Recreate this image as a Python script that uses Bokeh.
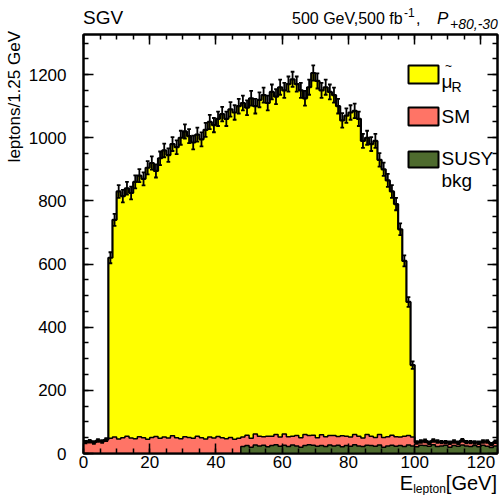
import numpy as np
from bokeh.plotting import figure
from bokeh.models import (LinearAxis, SingleIntervalTicker, Label,
                          BoxAnnotation, Div, CustomJSTickFormatter)
from bokeh.layouts import row, column
from bokeh.embed import file_html
from bokeh.resources import INLINE

# ---------------- data (events per 1.25 GeV bin, 0..125 GeV) ----------------
bin_width = 1.25
signal = [0, 0, 0, 0, 0, 0,
          572, 688, 784, 765, 785, 776, 813, 827, 820, 860,
          869, 841, 887, 908, 896, 924, 920, 953, 967, 954,
          937, 955, 945, 979, 998, 991, 1006, 1025, 1013, 1039,
          1035, 1052, 1058, 1037, 1077, 1038, 1065, 1082, 1055, 1090,
          1070, 1108, 1088, 1117, 1130, 1113, 1100, 1065, 1103, 1147,
          1130, 1091, 1107, 1088, 1078, 1046, 999, 1015, 1028, 1025,
          1005, 941, 940, 925, 939, 870, 849, 812, 772, 737,
          658, 555, 423, 228,
          0, 0, 0, 0, 0, 0, 0, 0, 0, 0, 0, 0, 0, 0, 0, 0, 0, 0, 0, 0]
sm = [36, 39, 35, 41, 38, 44,
      48, 52, 46, 50, 55, 49, 47, 53, 50, 45, 51, 54, 48, 52, 49, 56, 50, 47,
      53, 51, 48, 55, 50, 46, 52, 49, 54, 50, 47, 51, 45, 48,
      30, 33, 28, 35, 31, 27, 34, 30, 32, 29, 36, 31, 28, 33, 30, 35, 29, 32,
      27, 34, 31, 30, 33, 28, 35, 30, 29, 32, 31, 27, 34, 30, 28, 33, 31, 29,
      32, 30, 27, 33, 30, 28,
      14, 12, 15, 11, 13, 16, 12, 10, 14, 13, 11, 15, 12, 14, 10, 13, 12, 15, 11, 13]
susy = [0, 0, 0, 0, 0, 0, 0, 0, 0, 0, 0, 0, 0, 0, 0, 0, 0, 0, 0,
        0, 0, 0, 0, 0, 0, 0, 0, 0, 0, 0, 0, 0, 0, 0, 0, 0, 0, 0,
        22, 25, 20, 27, 24, 26, 21, 25, 28, 23, 26, 22, 27, 24, 20, 25, 28, 26,
        23, 25, 22, 27, 24, 26, 21, 25, 23, 28, 24, 22, 26, 25, 23, 27, 20, 24,
        26, 23, 25, 22, 27, 24, 21, 26, 25, 23, 28, 22, 24, 26, 20, 25, 23, 27,
        24, 22, 25, 21, 26, 23, 19, 24]
legend_labels = ["SM", "SUSY", "bkg"]
x_tick_step = 20
y_tick_step = 200

# ---------------- derived stacks ----------------
sig = np.array(signal, float)
smv = np.array(sm, float)
sus = np.array(susy, float)
n = len(sig)
edges = np.arange(n + 1) * bin_width
centers = edges[:-1] + bin_width / 2
lvl1 = sus
lvl2 = sus + smv
total = lvl2 + sig
err = 0.7 * np.sqrt(total)

# ---------------- layout (overall canvas 502 x 495) ----------------
W, H = 502, 495
LEFT_W = 24          # strip holding the y title
TOP_H = 31           # strip holding the header texts
BOT_H = 20           # strip holding the x title
PW, PH = W - LEFT_W, H - TOP_H - BOT_H
L, R, T, B = 59, 5, 3, 22   # borders of the main plot
FX0, FY0 = LEFT_W + L, TOP_H + T          # frame top-left in canvas px
FW, FH = PW - L - R, PH - T - B
XMAX, YMAX = 125.0, 1327.0
FONT = "Liberation Sans"


def X(px):
    return (px - FX0) * XMAX / FW


def Y(py):
    return (FY0 + FH - py) * YMAX / FH


p = figure(width=PW, height=PH, x_range=(0, XMAX), y_range=(0, YMAX),
           output_backend="svg", toolbar_location=None,
           min_border_left=L, min_border_right=R, min_border_top=T,
           min_border_bottom=B, background_fill_color="white",
           border_fill_color="white")
p.xgrid.visible = False
p.ygrid.visible = False
p.outline_line_color = "black"
p.outline_line_width = 2

YELLOW = "#FFFF00"
SALMON = "#FF7466"
GREEN = "#4E6B2E"

for lo, hi, col in ((np.zeros(n), lvl1, GREEN), (lvl1, lvl2, SALMON),
                    (lvl2, total, YELLOW)):
    if hasattr(p, "varea_step"):
        p.varea_step(x=edges, y1=np.append(lo, lo[-1]),
                     y2=np.append(hi, hi[-1]), step_mode="after",
                     fill_color=col)
    else:
        p.quad(left=edges[:-1], right=edges[1:], bottom=lo, top=hi,
               fill_color=col, line_color=col, line_width=0.6)

for lv, lw in ((lvl1, 1.5), (lvl2, 1.5), (total, 2.2)):
    p.step(x=edges, y=np.append(lv, lv[-1]), mode="after",
           line_color="black", line_width=lw)

# error bars with caps
p.segment(x0=centers, y0=total - err, x1=centers, y1=total + err,
          line_color="black", line_width=1.8)
cw = bin_width * 0.45
for yy in (total + err, total - err):
    p.segment(x0=centers - cw, y0=yy, x1=centers + cw, y1=yy,
              line_color="black", line_width=1.8)


# ---------------- axes ----------------
def style_axis(ax, step, show_labels, standoff):
    ax.ticker = SingleIntervalTicker(interval=step, num_minor_ticks=4)
    ax.axis_line_color = "black"
    ax.axis_line_width = 2
    ax.major_tick_in = 10
    ax.major_tick_out = 0
    ax.minor_tick_in = 5
    ax.minor_tick_out = 0
    ax.major_tick_line_width = 1.5
    ax.minor_tick_line_width = 1.5
    ax.major_tick_line_color = "black"
    ax.minor_tick_line_color = "black"
    ax.major_label_text_font = FONT
    ax.major_label_text_color = "black"
    ax.major_label_standoff = standoff
    if show_labels:
        ax.major_label_text_font_size = "17px"
    else:
        ax.formatter = CustomJSTickFormatter(code="return ''")
        ax.major_label_text_font_size = "0px"
        ax.major_label_standoff = 0


style_axis(p.xaxis[0], x_tick_step, True, 2)
style_axis(p.yaxis[0], y_tick_step, True, 17)
top_ax = LinearAxis()
right_ax = LinearAxis()
style_axis(top_ax, x_tick_step, False, 0)
style_axis(right_ax, y_tick_step, False, 0)
p.add_layout(top_ax, "above")
p.add_layout(right_ax, "right")


def lab(px, py, text, size, align="left", baseline="alphabetic",
        style="normal"):
    p.add_layout(Label(x=X(px), y=Y(py), text=text, text_font=FONT,
                       text_font_size=f"{size}px", text_align=align,
                       text_baseline=baseline, text_font_style=style,
                       text_color="black"))


# legend
boxes = [(65, 83, YELLOW), (107, 125, SALMON), (151, 167, GREEN)]
for top_px, bot_px, col in boxes:
    p.add_layout(BoxAnnotation(left=X(408), right=X(438), top=Y(top_px),
                               bottom=Y(bot_px), fill_color=col, fill_alpha=1,
                               line_color="black", line_width=2,
                               line_alpha=1))
lab(441, 81, "\u03bc", 19)
lab(448, 65, "~", 12, align="center", baseline="middle")
lab(451, 86, "R", 14)
lab(441, 116, legend_labels[0], 19, baseline="middle")
lab(441, 158, legend_labels[1], 19, baseline="middle")
lab(441, 180, legend_labels[2], 19, baseline="middle")

# ---------------- text strips (HTML) ----------------
ASC = 0.8465   # baseline offset (em) of Liberation Sans for line-height 1


def box(w, h, inner):
    html = (f'<div style="position:relative;width:{w}px;height:{h}px;'
            f'overflow:visible;font-family:\'{FONT}\';color:black;">'
            f'{inner}</div>')
    return Div(text=html, width=w, height=h, margin=0)


def span_at(left, baseline, size, text, style="normal", right=None):
    pos = f"right:{right}px;" if right is not None else f"left:{left}px;"
    return (f'<span style="position:absolute;{pos}top:{baseline - ASC * size:.1f}px;'
            f'font-size:{size}px;line-height:1;white-space:nowrap;'
            f'font-style:{style};">{text}</span>')


header = (span_at(83, 24, 19, "SGV") +
          span_at(292, 24, 16, "500 GeV,500 fb") +
          span_at(404, 17, 12, "-1") +
          span_at(416, 24, 16, ",") +
          span_at(437, 24, 17, "P", style="italic") +
          span_at(450, 29, 14, "+80,-30", style="italic"))
top_div = box(W, TOP_H, header)

oy = H - BOT_H
x_title = ('E<span style="font-size:12px;vertical-align:-3px;line-height:0;">'
           'lepton</span>[GeV]')
bot_div = box(W, BOT_H, span_at(0, 490 - oy, 20, x_title, right=W - 497))

y_title = ('<span style="position:absolute;left:6px;top:0px;'
           'writing-mode:vertical-rl;transform:rotate(180deg);'
           'font-size:17px;line-height:17px;white-space:nowrap;">'
           'leptons/1.25 GeV</span>')
left_div = box(LEFT_W, PH, y_title)

layout = column(top_div, row(left_div, p), bot_div)
open("out.html", "w").write(file_html(layout, INLINE))
